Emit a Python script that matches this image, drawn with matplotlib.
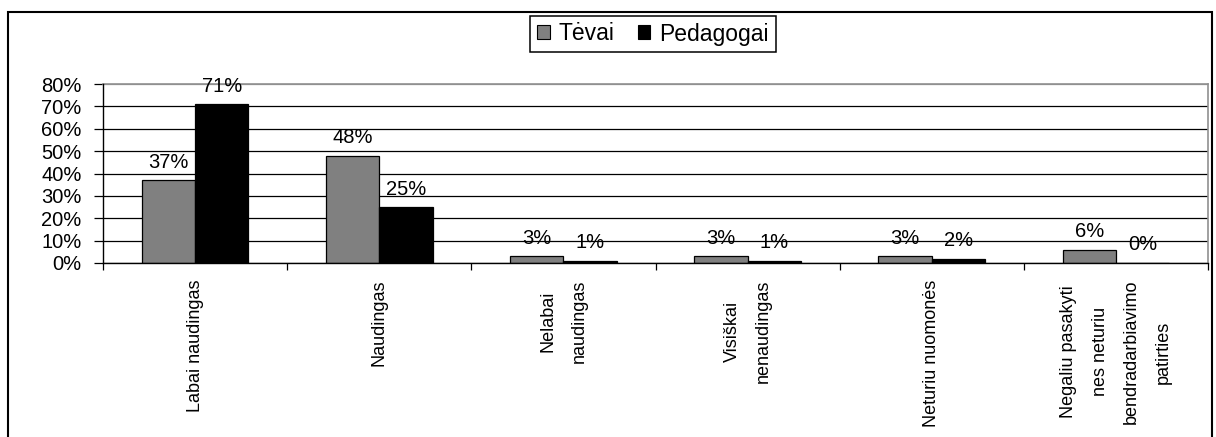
import numpy as np
import matplotlib
matplotlib.use("Agg")
import matplotlib.pyplot as plt
from matplotlib.patches import Rectangle, Patch
from matplotlib.ticker import PercentFormatter, FixedLocator

plt.rcParams['font.family'] = ['Liberation Sans', 'DejaVu Sans']

categories = ['Labai naudingas', 'Naudingas', 'Nelabai\nnaudingas',
              'Visiškai\nnenaudingas', 'Neturiu nuomonės',
              'Negaliu pasakyti\nnes neturiu\nbendradarbiavimo\npatirties']
series = ['Tėvai', 'Pedagogai']
tevai = [0.37, 0.48, 0.03, 0.03, 0.03, 0.06]
pedagogai = [0.71, 0.25, 0.01, 0.01, 0.02, 0.00]
colors = ['#808080', '#000000']

fig = plt.figure(figsize=(12.16, 4.37), dpi=100)
ax = fig.add_axes([103 / 1216, 1 - 263 / 437, 1105 / 1216, 179 / 437])

x = np.arange(len(categories))
w = 0.29
for i, (vals, name) in enumerate(zip([tevai, pedagogai], series)):
    pos = x + (i - 0.5) * w
    ax.bar(pos, vals, w, color=colors[i], edgecolor='black', linewidth=0.9,
           zorder=3, label=name)
    for px, v in zip(pos, vals):
        ax.annotate(f'{round(v * 100)}%', (px, v), xytext=(0, 9),
                    textcoords='offset points', ha='center', va='baseline',
                    fontsize=14.5, zorder=4)

ax.set_xlim(-0.5, len(categories) - 0.5)
ax.set_ylim(0, 0.8)
ax.set_yticks(np.arange(0, 0.81, 0.1))
ax.yaxis.set_major_formatter(PercentFormatter(1.0, decimals=0))
ax.tick_params(axis='y', direction='out', length=6.5, width=0.9, pad=9,
               labelsize=14.5, color='black')

ax.set_xticks(x)
ax.set_xticklabels(categories, rotation=90, fontsize=13, linespacing=2.1,
                   ha='center', va='top', multialignment='center')
ax.xaxis.set_minor_locator(FixedLocator(np.arange(-0.5, len(categories), 1.0)))
ax.tick_params(axis='x', which='major', length=0, pad=12)
ax.tick_params(axis='x', which='minor', direction='out', length=5, width=0.9)

ax.yaxis.grid(True, color='black', linewidth=0.9, zorder=1)
ax.set_axisbelow(True)
gl = ax.get_ygridlines()
gl[-1].set_color('#909090')
for s in ['left', 'bottom']:
    ax.spines[s].set_linewidth(1.0)
    ax.spines[s].set_zorder(5)
for s in ['top', 'right']:
    ax.spines[s].set_color('#909090')
    ax.spines[s].set_linewidth(1.2)

handles = [Patch(facecolor=c, edgecolor='black', linewidth=0.8) for c in colors]
fig.legend(handles, series, loc='center', bbox_to_anchor=(653 / 1216, 1 - 34 / 437),
           ncol=2, fontsize=16.5, frameon=True, fancybox=False, framealpha=1,
           edgecolor='black', handlelength=0.55, handleheight=0.55,
           handletextpad=0.4, columnspacing=1.0, borderpad=0.3)
fig.legends[0].get_frame().set_linewidth(1.1)

fig.add_artist(Rectangle((8 / 1216, -0.05), (1212 - 8) / 1216, 1 - 12 / 437 + 0.05,
                         transform=fig.transFigure, fill=False,
                         edgecolor='black', linewidth=1.5, clip_on=False))

fig.savefig('out.png', dpi=100)
